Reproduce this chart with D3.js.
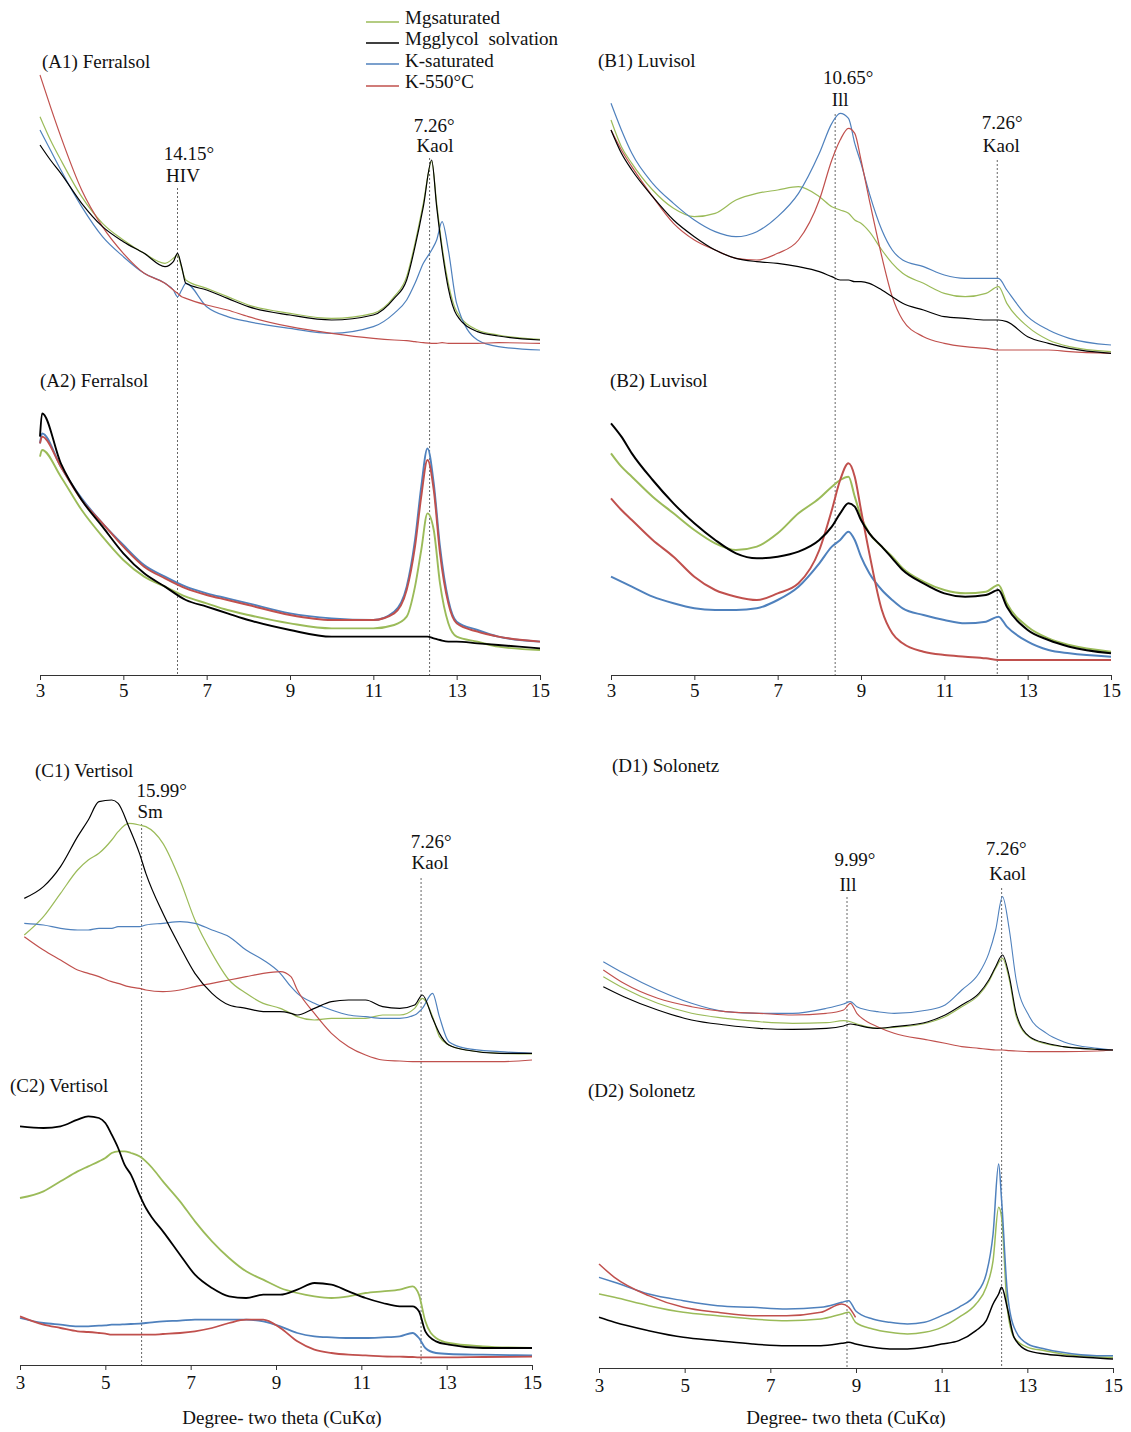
<!DOCTYPE html>
<html><head><meta charset="utf-8">
<script src="https://cdn.jsdelivr.net/npm/d3@7"></script>
<style>
body{margin:0;background:#fff;}
svg{display:block;font-family:"Liberation Serif","Times New Roman",serif;}
</style></head><body>
<svg id="chart" width="1131" height="1432"></svg>
<script>
// ---------------- DATA (relative intensity, a.u.) ----------------
const xTicks = [3, 5, 7, 9, 11, 13, 15];
const seriesKeys = ["mg", "gly", "k", "k550"];
const seriesLabels = ["Mgsaturated", "Mgglycol  solvation", "K-saturated", "K-550°C"];

// (A1) Ferralsol
const A1_x    = [3, 3.25, 3.5, 4, 4.5, 5, 5.5, 6, 6.2, 6.3, 6.4, 6.5, 7, 7.5, 8, 9, 10, 11, 11.5, 11.8, 12, 12.2, 12.4, 12.52, 12.65, 12.8, 13, 13.5, 14, 15];
const A1_mg   = [73, 66, 60, 49, 41, 36, 32, 29, 30.5, 31.5, 27.5, 24, 21.5, 19, 16.5, 14, 12.5, 14, 19, 25, 35, 47, 59.5, 47, 34, 23, 14.5, 9, 7.5, 6.2];
const A1_gly  = [64.5, 60, 56, 47, 40, 35.5, 32, 28, 29.5, 32, 28, 23, 21, 18.5, 16, 13.5, 12, 13.5, 18.5, 24, 34, 46, 60, 46, 33, 21.5, 13.5, 8.5, 7.2, 6];
const A1_k    = [69, 63, 57, 46, 37, 31, 26, 23, 21, 19, 21, 23, 16, 13, 11.5, 9.5, 8, 10, 14, 18, 23, 29, 33, 36, 41.5, 33, 17, 6, 4, 3];
const A1_k550 = [85.5, 76, 67, 51, 40, 32, 26, 23, 21, 20, 19, 18.5, 16.5, 15, 13, 10, 8, 6.5, 6, 5.8, 5.5, 5.2, 5, 5, 5.2, 5, 5, 5, 5.2, 5];

// (A2) Ferralsol
const A2_x    = [3, 3.05, 3.5, 4, 4.5, 5, 5.5, 6, 6.5, 7, 7.5, 8, 9, 10, 11, 11.5, 11.8, 12, 12.15, 12.3, 12.45, 12.6, 12.8, 13, 13.5, 14, 15];
const A2_mg   = [67, 69, 61, 51, 43, 36, 31, 28, 25, 23, 21, 19.5, 17, 15.5, 15.5, 16.5, 19, 28, 39, 50, 45, 29, 17, 13, 11.5, 10, 9];
const A2_gly  = [73, 80, 65, 54, 46, 38, 32, 28, 24, 22, 20, 18, 15, 13, 13, 13, 13, 13, 13, 13, 12.5, 12, 11.5, 11.5, 11, 10.5, 9.5];
const A2_k    = [71, 74, 64, 54.5, 47, 40.5, 34.5, 31, 28, 26, 24.5, 23, 20, 18.5, 18, 20.5, 28, 42, 58, 69.5, 59, 40, 24, 17.5, 15, 13, 11.5];
const A2_k550 = [71, 73, 64, 54, 47, 40, 34, 30.5, 27.5, 25.5, 24, 22.5, 19.5, 18, 18, 20, 27, 40, 55, 66, 57, 38, 23, 17, 14.5, 13, 11.5];

// (B1)/(B2) Luvisol
const B_x     = [3, 3.25, 3.5, 4, 4.5, 5, 5.5, 6, 6.5, 7, 7.5, 8, 8.3, 8.5, 8.7, 8.85, 9, 9.2, 9.5, 9.75, 10, 10.5, 11, 11.5, 12, 12.3, 12.5, 13, 13.5, 14, 15];
const B1_mg   = [72, 64, 59, 51, 45.5, 43, 44, 48, 50, 51, 52, 49, 46, 45, 44, 42, 41, 38.5, 33, 29, 26, 23, 20, 19, 20, 22, 17, 10, 6, 4, 2.5];
const B1_gly  = [69, 62, 57, 49, 42, 37, 33, 30.5, 29.5, 29, 28, 26.5, 25, 24, 24, 23.5, 23.5, 23, 21, 19, 17, 15, 13, 12.5, 12, 12, 11.5, 7, 5, 3.5, 2];
const B1_k    = [77, 69, 62, 53, 47, 42, 38.5, 37, 38.5, 43, 50, 62, 71, 74, 72.5, 65, 59, 50, 39, 33, 30, 28, 25.5, 24.5, 24.5, 24.5, 21, 13, 9, 6.5, 4.5];
const B1_k550 = [69, 63, 58, 49, 41, 36, 33, 30.5, 30, 32, 36, 48, 60, 66, 69.5, 68, 60, 48, 31, 19, 12, 7, 5, 4, 3.5, 3, 3, 3, 3, 2.5, 2];
const B2_mg   = [68, 64, 61, 55, 50, 45, 41, 39, 40, 44, 50, 54.5, 58, 60, 61, 55, 49, 44, 40, 37, 33.5, 29.5, 27, 26, 26.5, 28.5, 23, 16, 12.5, 10.5, 8.5];
const B2_gly  = [77, 73, 68, 60, 53, 47, 42, 38, 36.5, 37, 38.5, 42, 46, 50, 53, 52, 48, 44, 40, 36.5, 33, 29, 26, 25, 25.5, 27, 22, 15, 12, 10, 8];
const B2_k    = [31, 29.5, 28, 25, 23, 21.5, 21, 21, 21.5, 24, 28, 35, 40, 42, 44.5, 42, 37, 32, 27, 24, 21.5, 19.5, 18, 17, 17.5, 19, 16, 11.5, 9, 8, 7];
const B2_k550 = [54.5, 51, 48, 42, 37, 31, 27, 25, 24, 26, 29, 39, 51, 60, 65, 61, 51, 38, 21, 14, 11, 8.5, 7.5, 7, 6.5, 6, 6, 6, 6, 6, 6];

// (C1) Vertisol
const C1_x    = [3.1, 3.55, 3.95, 4.35, 4.6, 4.85, 5.15, 5.3, 5.55, 5.8, 5.95, 6.35, 6.75, 7.1, 7.5, 7.9, 8.3, 8.7, 9.1, 9.35, 9.5, 9.9, 10.3, 10.7, 11.1, 11.5, 11.9, 12.25, 12.43, 12.67, 12.83, 13.05, 13.45, 14.25, 15];
const C1_mg   = [40.5, 46, 53, 60, 63, 65, 69, 71.5, 74, 73.5, 73, 68, 57, 45, 35, 27, 23, 20, 18.5, 17, 16, 15, 15.5, 15.5, 15.5, 16.5, 16.5, 18.5, 21.5, 16, 10, 7.5, 6, 5, 4.8];
const C1_gly  = [51.5, 55, 61, 70, 75, 80.5, 81, 80, 73, 65, 59, 47, 37, 29, 23, 19.5, 18.5, 17.5, 17.5, 17, 16.5, 18.5, 20.5, 21, 21, 19, 18.5, 19.5, 22.5, 15.5, 11, 7.5, 6, 5, 5];
const C1_k    = [44, 43.5, 42.5, 42, 42, 42.5, 42.5, 43, 43, 43, 43.5, 44, 44.5, 44, 42, 40, 36, 33, 29, 25, 23, 20, 18, 16.5, 16, 15.5, 15.5, 16.5, 18.5, 23, 16, 8.5, 6.5, 5.5, 5];
const C1_k550 = [40, 36, 33, 30, 29, 28, 26.5, 26, 25, 24.5, 24, 23.5, 24, 25, 26, 27, 28, 29, 29.5, 28, 24, 17, 11, 7, 4.5, 3, 2.7, 2.5, 2.5, 2.5, 2.5, 2.5, 2.5, 2.5, 3];

// (C2) Vertisol
const C2_x    = [3, 3.55, 3.95, 4.35, 4.6, 4.85, 5, 5.15, 5.3, 5.45, 5.6, 5.8, 5.95, 6.1, 6.35, 6.75, 7.1, 7.5, 7.9, 8.3, 8.7, 9.1, 9.5, 9.9, 10.3, 10.7, 11.1, 11.5, 11.9, 12.2, 12.35, 12.5, 12.75, 13.05, 13.85, 15];
const C2_mg   = [54, 56, 59, 62, 63.5, 65, 66, 67.5, 68, 68, 67.5, 66.5, 65, 63, 59, 53, 47, 41, 36, 32, 29.5, 27, 25.5, 24.5, 24, 24.5, 25.5, 26, 26.5, 27.5, 25, 17, 12, 10.5, 9.5, 9];
const C2_gly  = [75.5, 75, 75.5, 77.5, 78.5, 78, 76.5, 73, 69, 64, 61, 55, 51, 48, 44, 37, 31, 27, 24.5, 24, 25, 25, 26.5, 28.5, 28, 26, 24, 22.5, 21.5, 21.5, 20, 14, 11, 10, 9, 9];
const C2_k    = [18, 16.5, 16, 15.5, 15.5, 15.7, 15.8, 16, 16, 16.1, 16.2, 16.3, 16.5, 16.7, 17, 17.2, 17.5, 17.5, 17.5, 17.5, 17, 15.5, 13.5, 12.5, 12.2, 12, 12, 12.2, 12.5, 13.5, 12, 9, 7.5, 7.2, 7, 6.8];
const C2_k550 = [18.5, 16, 15, 14, 13.8, 13.5, 13.3, 13, 13, 13, 13, 13, 13, 13, 13.2, 13.5, 14, 15, 16.5, 17.5, 17.5, 15, 11, 8.5, 7.5, 7, 6.8, 6.5, 6.4, 6.3, 6.2, 6.2, 6.2, 6.2, 6.3, 6.4];

// (D1) Solonetz
const D1_x    = [3.1, 3.58, 4.37, 5.16, 5.95, 6.74, 7.52, 8.31, 8.71, 8.87, 9.02, 9.26, 9.5, 9.89, 10.68, 11.08, 11.47, 11.87, 12.1, 12.26, 12.42, 12.58, 12.74, 13.05, 13.45, 13.84, 14.63, 15];
const D1_mg   = [25, 21.5, 17, 14, 12.5, 11.5, 11, 11.2, 11.8, 11.5, 10.8, 10, 9.5, 9.8, 11.2, 13, 16, 19.5, 23.5, 27.5, 30.5, 24, 13, 6.8, 4.8, 4, 3.2, 3];
const D1_gly  = [22, 19, 15, 12, 10.5, 9.5, 9.2, 9.5, 10.2, 10.8, 10.5, 9.8, 9.5, 10, 11.5, 13.5, 16.5, 20, 24, 28, 31.5, 25, 14, 7, 5, 4, 3.2, 3];
const D1_k    = [29.5, 26, 21, 17, 14.5, 14, 14, 15.5, 16.8, 17.5, 16, 15, 14.5, 14, 15, 16.5, 21, 26, 32, 39, 49, 39, 24, 13, 8, 5.5, 3.5, 3];
const D1_k550 = [27, 23, 18.5, 16, 14.5, 14, 13.5, 14, 15, 17, 14, 11.5, 10, 8, 6, 5, 4, 3.5, 3.2, 3, 3, 2.8, 2.7, 2.5, 2.5, 2.5, 2.7, 3];

// (D2) Solonetz
const D2_x    = [3, 3.36, 4.16, 4.97, 5.77, 6.58, 7.38, 8.18, 8.67, 8.83, 8.99, 9.39, 9.79, 10.2, 10.6, 11, 11.4, 11.8, 12.04, 12.2, 12.33, 12.4, 12.53, 12.69, 13.01, 13.41, 13.81, 14.62, 15];
const D2_mg   = [27, 26, 23.5, 21.5, 20.5, 19.5, 19, 19.5, 21, 21.5, 18.5, 16.5, 15.5, 15, 15.5, 17, 20, 24, 29, 37, 53, 50, 23, 14, 11, 10, 9, 8.2, 8];
const D2_gly  = [20, 18.5, 16, 14, 13, 12, 11.5, 11.5, 12.2, 12.5, 12, 11, 10.5, 10.5, 11, 12, 13, 16, 19, 24, 27, 29, 23, 14, 10, 9, 8.5, 7.8, 7.5];
const D2_k    = [32, 30.5, 27, 25, 23.5, 23, 22.5, 23, 24.5, 25, 22, 19.5, 18.5, 18, 18.5, 20.5, 23, 27, 33, 45, 66, 55, 28, 17, 12, 10.5, 9.5, 8.5, 8.5];
const D2_k550 = [36, 32, 26.5, 23, 21.5, 20.5, 20.5, 21.5, 24, 23, 20];

// Reference peaks (degrees 2θ) with d-spacing and mineral labels
const A_peaks = [{x: 6.3, d: "14.15°", m: "HIV"}, {x: 12.35, d: "7.26°", m: "Kaol"}];
const B_peaks = [{x: 8.38, d: "10.65°", m: "Ill"}, {x: 12.27, d: "7.26°", m: "Kaol"}];
const C_peaks = [{x: 5.85, d: "15.99°", m: "Sm"}, {x: 12.4, d: "7.26°", m: "Kaol"}];
const D_peaks = [{x: 8.79, d: "9.99°", m: "Ill"}, {x: 12.4, d: "7.26°", m: "Kaol"}];

// ---------------- STYLE / LAYOUT ----------------
const colors = {mg: "#9bbb59", gly: "#000000", k: "#4f81bd", k550: "#c0504d"};
const drawOrder = ["mg", "k", "k550", "gly"];
const FONT = 19;

const quadrants = [
  {px: [40, 540], axisY: 675, pad: 4, title: null,
   peaks: A_peaks,
   peakLayout: [{top: 188, d: [11.5, 160], m: [5.5, 182]}, {top: 158, d: [4.5, 132], m: [5.5, 152]}],
   panels: [
     {title: "(A1) Ferralsol", t: [42, 68], top: 50, x: A1_x, s: {mg: A1_mg, gly: A1_gly, k: A1_k, k550: A1_k550}, w: 1.2},
     {title: "(A2) Ferralsol", t: [40, 387], top: 370, x: A2_x, s: {mg: A2_mg, gly: A2_gly, k: A2_k, k550: A2_k550}, w: 1.9}]},
  {px: [611, 1111], axisY: 675, pad: 4, title: null,
   peaks: B_peaks,
   peakLayout: [{top: 114, d: [13, 84], m: [5, 106]}, {top: 160, d: [5, 129], m: [4, 152]}],
   panels: [
     {title: "(B1) Luvisol", t: [598, 67], top: 50, x: B_x, s: {mg: B1_mg, gly: B1_gly, k: B1_k, k550: B1_k550}, w: 1.2},
     {title: "(B2) Luvisol", t: [610, 387], top: 370, x: B_x, s: {mg: B2_mg, gly: B2_gly, k: B2_k, k550: B2_k550}, w: 2}]},
  {px: [20, 532], axisY: 1365, pad: 6, title: [282, 1424],
   peaks: C_peaks,
   peakLayout: [{top: 824, d: [20, 797], m: [8.5, 818]}, {top: 878, d: [10, 848], m: [9, 869]}],
   panels: [
     {title: "(C1) Vertisol", t: [35, 777], top: 760, x: C1_x, s: {mg: C1_mg, gly: C1_gly, k: C1_k, k550: C1_k550}, w: 1.2},
     {title: "(C2) Vertisol", t: [10, 1092], top: 1068, x: C2_x, s: {mg: C2_mg, gly: C2_gly, k: C2_k, k550: C2_k550}, w: 1.8}]},
  {px: [599, 1113], axisY: 1368, pad: 6, title: [846, 1424],
   peaks: D_peaks,
   peakLayout: [{top: 897, d: [8, 866], m: [1, 891]}, {top: 888, d: [4.5, 855], m: [6, 880]}],
   panels: [
     {title: "(D1) Solonetz", t: [612, 772], top: 750, x: D1_x, s: {mg: D1_mg, gly: D1_gly, k: D1_k, k550: D1_k550}, w: 1.1},
     {title: "(D2) Solonetz", t: [588, 1097], top: 1074, x: D2_x, s: {mg: D2_mg, gly: D2_gly, k: D2_k, k550: D2_k550}, w: 1.5}]}
];

// ---------------- DRAW ----------------
const svg = d3.select("#chart");
svg.append("rect").attr("width", 1131).attr("height", 1432).attr("fill", "#fff");

quadrants.forEach(q => {
  const x = d3.scaleLinear().domain([3, 15]).range(q.px);
  const g = svg.append("g");

  // dotted reference lines + labels
  q.peaks.forEach((p, i) => {
    const L = q.peakLayout[i];
    const px = x(p.x);
    g.append("line").attr("x1", px).attr("x2", px).attr("y1", L.top).attr("y2", q.axisY)
      .attr("stroke", "#666").attr("stroke-width", 1).attr("stroke-dasharray", "2,2");
    g.append("text").attr("x", px + L.d[0]).attr("y", L.d[1]).attr("text-anchor", "middle")
      .attr("font-size", FONT).attr("fill", "#111").text(p.d);
    g.append("text").attr("x", px + L.m[0]).attr("y", L.m[1]).attr("text-anchor", "middle")
      .attr("font-size", FONT).attr("fill", "#111").text(p.m);
  });

  q.panels.forEach(p => {
    const y = d3.scaleLinear().domain([0, 93]).range([p.top + 310, p.top]);
    const line = d3.line().x(d => x(d[0])).y(d => y(d[1])).curve(d3.curveMonotoneX);
    drawOrder.forEach(key => {
      const ys = p.s[key];
      const pts = ys.map((v, i) => [p.x[i], v]);
      g.append("path").datum(pts).attr("d", line).attr("fill", "none")
        .attr("stroke", colors[key]).attr("stroke-width", p.w).attr("stroke-linejoin", "round");
    });
    g.append("text").attr("x", p.t[0]).attr("y", p.t[1]).attr("font-size", FONT)
      .attr("fill", "#111").text(p.title);
  });

  const axis = d3.axisBottom(x).tickValues(xTicks).tickSize(5).tickSizeOuter(0).tickPadding(q.pad);
  const ag = g.append("g").attr("transform", `translate(0,${q.axisY})`).call(axis);
  ag.selectAll("path,line").attr("stroke", "#333");
  ag.selectAll("text").attr("font-size", FONT).attr("font-family", "Liberation Serif, serif").attr("fill", "#111");

  if (q.title) {
    g.append("text").attr("x", q.title[0]).attr("y", q.title[1]).attr("text-anchor", "middle")
      .attr("font-size", FONT).attr("fill", "#111").text("Degree- two theta (CuKα)");
  }
});

// legend
const legY = [22, 43, 64, 86];
const legTextY = [24, 45, 67, 88];
const lg = svg.append("g");
seriesKeys.forEach((key, i) => {
  lg.append("line").attr("x1", 366).attr("x2", 399).attr("y1", legY[i]).attr("y2", legY[i])
    .attr("stroke", colors[key]).attr("stroke-width", 1.3);
  lg.append("text").attr("x", 405).attr("y", legTextY[i]).attr("font-size", FONT)
    .attr("fill", "#111").style("white-space", "pre").text(seriesLabels[i]);
});
</script>
</body></html>
